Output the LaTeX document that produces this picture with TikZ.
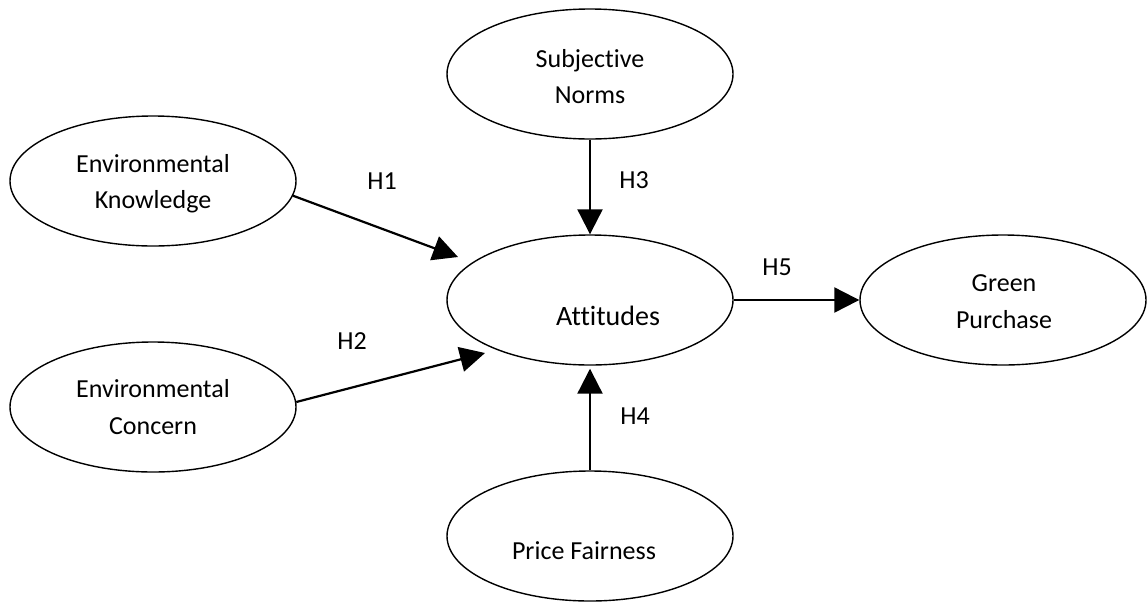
\documentclass[tikz,border=0pt]{standalone}
\usepackage{fontspec}
\setmainfont{Carlito}[Ligatures=NoCommon]
\usetikzlibrary{arrows.meta,shapes.geometric}
\begin{document}
\begin{tikzpicture}[x=1pt,y=-1pt,
  latent/.style={ellipse, draw, line width=1.4pt, minimum width=286pt, minimum height=130pt, inner sep=0pt},
  lbl/.style={font=\fontsize{26}{36}\selectfont, inner sep=0pt, anchor=base},
  hyp/.style={line width=2.2pt, -{Triangle[length=25pt,width=25pt]}}]
\useasboundingbox (0,0) rectangle (1147,603);
% constructs
\node[latent] (sn)  at (590,74)   {};
\node[latent] (ek)  at (153,181)  {};
\node[latent] (ec)  at (153,407)  {};
\node[latent] (att) at (590,300)  {};
\node[latent] (gp)  at (1003,300) {};
\node[latent] (pf)  at (590,536)  {};
% construct texts
\node[lbl] (snt1) at (590,67)  {Subjective};
\node[lbl] (snt2) at (590,103) {Norms};
\node[lbl] (ekt1) at (153,172) {Environmental};
\node[lbl] (ekt2) at (153,208) {Knowledge};
\node[lbl] (ect1) at (153,397) {Environmental};
\node[lbl] (ect2) at (153,434) {Concern};
\node[lbl, font=\fontsize{28}{34}\selectfont] (attt) at (608,325) {Attitudes};
\node[lbl] (gpt1) at (1004,291) {Green};
\node[lbl] (gpt2) at (1004,328) {Purchase};
\node[lbl] (pft)  at (584,559) {Price Fairness};
% hypothesis labels
\node[lbl] (h1) at (382,189) {H1};
\node[lbl] (h2) at (352,349) {H2};
\node[lbl] (h3) at (634,188) {H3};
\node[lbl] (h4) at (635,424) {H4};
\node[lbl] (h5) at (777,275) {H5};
% arrow tips that stop short of the ellipse
\coordinate (h1tip) at (458,257);
\coordinate (h2tip) at (485,353);
% connectors
\draw[hyp] (ek.-6) -- (h1tip);
\draw[hyp] (ec.2) -- (h2tip);
\draw[hyp] (sn.south) -- (att.north);
\draw[hyp, shorten >=3pt] (pf.north) -- (att.south);
\draw[hyp] (att.east) -- (gp.west);
\end{tikzpicture}
\end{document}
